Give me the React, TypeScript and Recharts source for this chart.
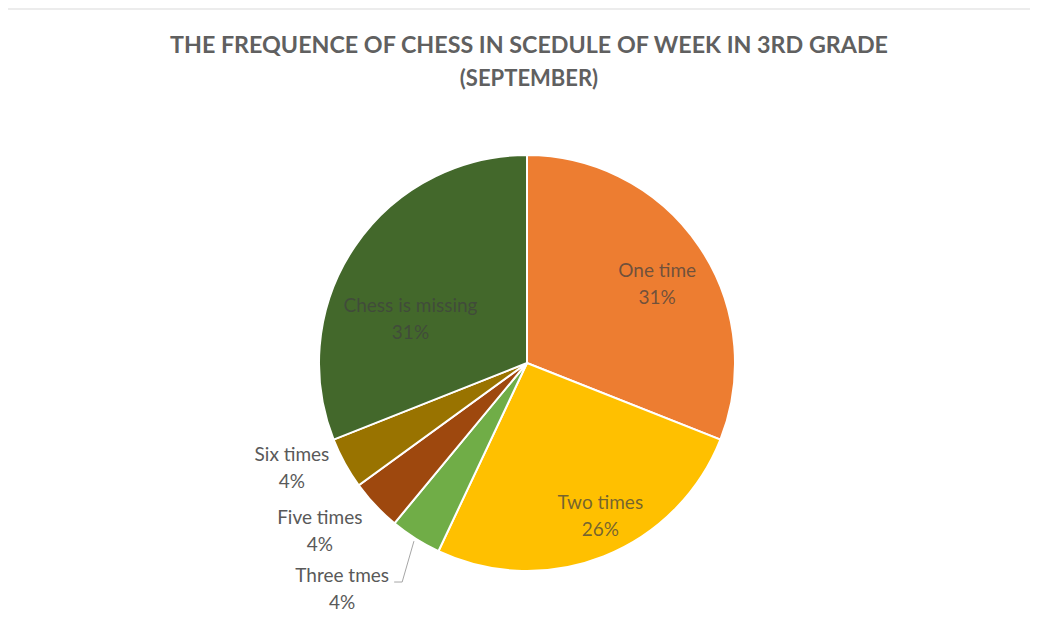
import React from 'react'
import { PieChart, Pie, Cell } from 'recharts'

const categories = ['One time', 'Two times', 'Three tmes', 'Five times', 'Six times', 'Chess is missing']
const shares = [31, 26, 4, 4, 4, 31]
const colors = ['#ED7D31', '#FFC000', '#70AD47', '#9E480E', '#997300', '#43682B']
const titleLines = ['THE FREQUENCE OF CHESS  IN SCEDULE OF WEEK IN 3RD GRADE', '(SEPTEMBER)']

const data = categories.map((name, i) => ({ name, value: shares[i] }))

// label placement per slice: radius factor + angle nudge (deg), and text colour
const labelPlace = [
  { r: 0.735, da: -2.6, fill: '#404040', op: 0.72 },
  { r: 0.81, da: 4.2, fill: '#404040', op: 0.72 },
  { r: 1.4, da: -7, fill: '#595959', op: 1 },
  { r: 1.28, da: -4.3, fill: '#595959', op: 1 },
  { r: 1.236, da: -4.9, fill: '#595959', op: 1 },
  { r: 0.6, da: 13.2, fill: '#404040', op: 0.72 },
]

const RAD = Math.PI / 180

const renderLabel = (props: any) => {
  const { cx, cy, midAngle, outerRadius, index, value, name } = props
  const p = labelPlace[index]
  const a = (midAngle + p.da) * RAD
  const x = cx + outerRadius * p.r * Math.cos(a)
  const y = cy - outerRadius * p.r * Math.sin(a)
  let leader = null
  if (index === 2) {
    const m = midAngle * RAD
    const sx = cx + (outerRadius + 3) * Math.cos(m)
    const sy = cy - (outerRadius + 3) * Math.sin(m)
    leader = (
      <polyline
        points={`${sx},${sy} ${x + 60},${y - 6} ${x + 52},${y - 6}`}
        fill="none"
        stroke="#a6a6a6"
        strokeWidth={1}
      />
    )
  }
  return (
    <g>
      {leader}
      <text
        x={x}
        y={y}
        textAnchor="middle"
        fontFamily="Lato, 'Open Sans', sans-serif"
        fontSize={19}
        fill={p.fill}
        fillOpacity={p.op}
      >
        <tspan x={x} y={y - 6}>{name}</tspan>
        <tspan x={x} y={y + 21}>{value}%</tspan>
      </text>
    </g>
  )
}

export default function App() {
  return (
    <div style={{ position: 'relative', width: 1030, height: 618, background: '#fff' }}>
      <div
        style={{
          position: 'absolute',
          left: -2,
          top: 0,
          width: 1032,
          height: 618,
          borderTop: '2px solid #ececec',
          borderLeft: '2px solid #ececec',
          boxSizing: 'border-box',
        }}
      />
      <svg
        width={1030}
        height={100}
        style={{ position: 'absolute', left: 0, top: 0 }}
      >
        <text
          x={521}
          y={45}
          textAnchor="middle"
          fontFamily="Lato, 'Open Sans', sans-serif"
          fontWeight={700}
          fontSize={22}
          fill="#606060"
          textLength={718}
          lengthAdjust="spacingAndGlyphs"
        >
          {titleLines[0]}
        </text>
        <text
          x={521}
          y={78}
          textAnchor="middle"
          fontFamily="Lato, 'Open Sans', sans-serif"
          fontWeight={700}
          fontSize={22}
          fill="#606060"
        >
          {titleLines[1]}
        </text>
      </svg>
      <div style={{ position: 'absolute', left: 0, top: 0 }}>
        <PieChart width={1030} height={618} margin={{ top: 0, right: 0, bottom: 0, left: 0 }}>
          <Pie
            data={data}
            dataKey="value"
            nameKey="name"
            cx={519}
            cy={355}
            outerRadius={208}
            startAngle={90}
            endAngle={-270}
            stroke="#ffffff"
            strokeWidth={2}
            label={renderLabel}
            labelLine={false}
            isAnimationActive={false}
          >
            {data.map((d, i) => (
              <Cell key={d.name} fill={colors[i]} />
            ))}
          </Pie>
        </PieChart>
      </div>
    </div>
  )
}
